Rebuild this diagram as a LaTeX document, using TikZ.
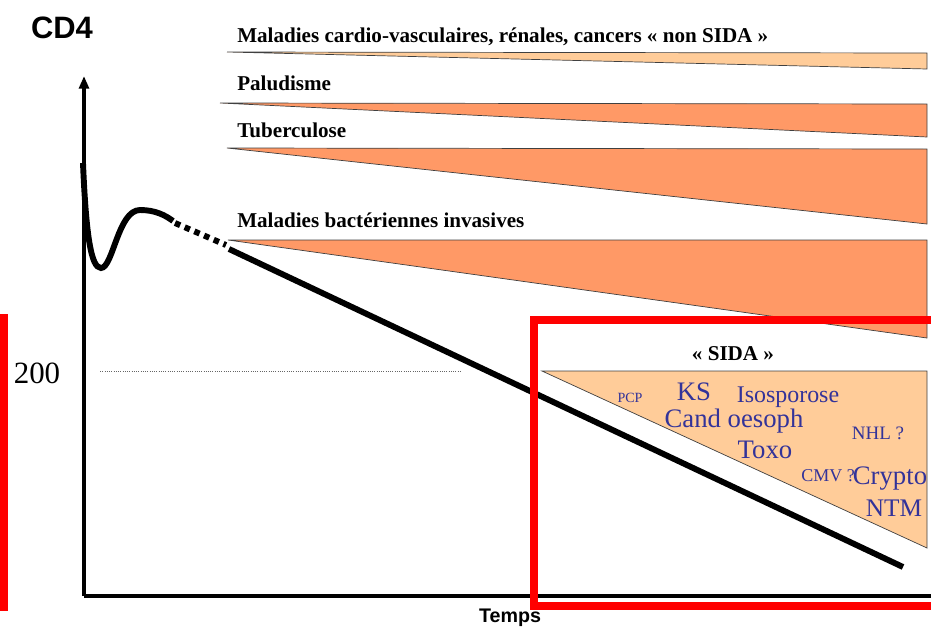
\documentclass[tikz,border=0pt]{standalone}
\usepackage{fontspec}
\setmainfont{Liberation Serif}
\setsansfont{Liberation Sans}
\usetikzlibrary{arrows.meta}
\definecolor{paleorange}{HTML}{FFCC99}
\definecolor{deeporange}{HTML}{FF9966}
\definecolor{sidablue}{HTML}{333399}
\definecolor{framered}{HTML}{FF0000}

\begin{document}
\begin{tikzpicture}[x=0.025cm, y=-0.025cm,
    wedge/.style={draw=black!75, line width=0.5pt},
    disease/.style={anchor=base west, inner sep=0pt, font=\bfseries\fontsize{15}{17}\selectfont},
    infect/.style={anchor=base, inner sep=0pt, text=sidablue},
    cdline/.style={line width=4.2pt},
    axis/.style={line width=2.8pt},
    redframe/.style={draw=framered, line width=5.5pt}]
    \useasboundingbox (0,0) rectangle (931,626);

    % Disease wedges
    \draw[wedge, fill=paleorange] (227,52) -- (927,53) -- (927,69) -- cycle;
    \node[disease] (cardio) at (237,42) {Maladies cardio-vasculaires, rénales, cancers « non SIDA »};

    \draw[wedge, fill=deeporange] (220,103) -- (927,104) -- (927,137) -- cycle;
    \node[disease] (palu) at (237,90) {Paludisme};

    \draw[wedge, fill=deeporange] (227,148) -- (927,149) -- (927,224) -- cycle;
    \node[disease] (tb) at (237,137) {Tuberculose};

    \draw[wedge, fill=deeporange] (228,240) -- (927,240) -- (927,338) -- cycle;
    \node[disease] (bact) at (237,227) {Maladies bactériennes invasives};

    % SIDA wedge
    \draw[wedge, fill=paleorange] (542,371) -- (927,371) -- (927,548) -- cycle;
    \node[disease, anchor=base] (sida) at (733,360) {« SIDA »};
    \node[infect, font=\fontsize{10}{12}\selectfont] (pcp) at (630,402) {PCP};
    \node[infect, font=\fontsize{19}{22}\selectfont] (ks) at (694,400) {KS};
    \node[infect, font=\fontsize{17}{20}\selectfont] (iso) at (788,402) {Isosporose};
    \node[infect, font=\fontsize{19}{22}\selectfont] (cand) at (734,427) {Cand oesoph};
    \node[infect, font=\fontsize{13.5}{16}\selectfont] (nhl) at (878,439) {NHL ?};
    \node[infect, font=\fontsize{19}{22}\selectfont] (toxo) at (765,458) {Toxo};
    \node[infect, font=\fontsize{12.8}{15}\selectfont] (cmv) at (828,481) {CMV ?};
    \node[infect, font=\fontsize{19}{22}\selectfont] (crypto) at (890,484) {Crypto};
    \node[infect, font=\fontsize{18}{21}\selectfont] (ntm) at (894,516) {NTM};

    % Axes
    \coordinate (origin) at (84,596);
    \coordinate (ytop) at (84,76);
    \coordinate (xend) at (960,596);
    \draw[axis, -{Triangle[length=9pt,width=7pt]}] (origin) -- (ytop);
    \draw[axis] (origin) -- (xend);
    \node[font=\sffamily\bfseries\fontsize{22}{26}\selectfont, anchor=base, inner sep=0pt] (cd4) at (62,38) {CD4};
    \node[font=\sffamily\bfseries\fontsize{14}{16}\selectfont, anchor=base, inner sep=0pt] (temps) at (510,622) {Temps};

    % Threshold 200
    \node[font=\fontsize{22}{26}\selectfont, anchor=base, inner sep=0pt] (seuil) at (37,383) {200};
    \draw[black!60, line width=0.6pt, densely dotted] (100,371) -- (461,371);

    % CD4 curve
    \draw[cdline] (83,163) .. controls (86,235) and (91,268) .. (101,268)
        .. controls (113,268) and (118,210) .. (140,210)
        .. controls (155,210) and (165,215) .. (173,221);
    \draw[cdline, dash pattern=on 4pt off 3.5pt] (175,223) -- (226,245);
    \draw[cdline] (229,249) -- (903,567);

    % Red frames
    \draw[redframe] (-60,318) rectangle (4,607);
    \draw[redframe] (534,320) rectangle (990,606);
\end{tikzpicture}
\end{document}
